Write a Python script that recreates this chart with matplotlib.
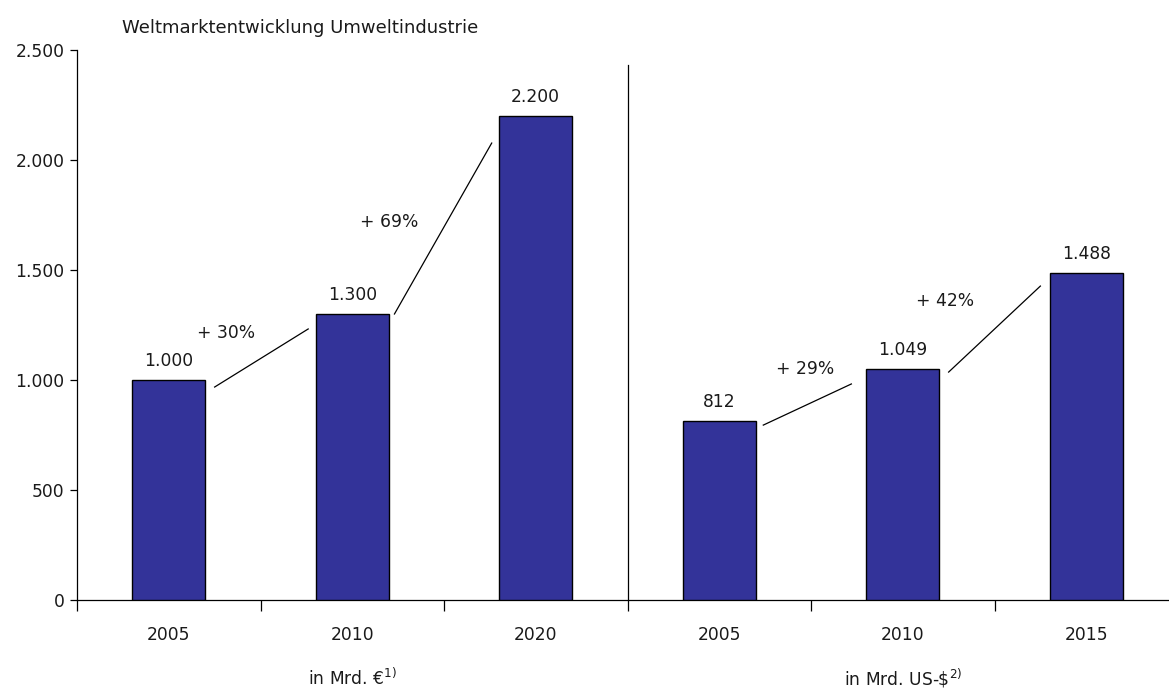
import matplotlib
matplotlib.use("Agg")
import matplotlib.pyplot as plt
from matplotlib.ticker import FuncFormatter, FixedLocator

years = ["2005", "2010", "2020", "2005", "2010", "2015"]
values = [1000, 1300, 2200, 812, 1049, 1488]
value_labels = ["1.000", "1.300", "2.200", "812", "1.049", "1.488"]
growth_labels = ["+ 30%", "+ 69%", "+ 29%", "+ 42%"]
# growth connector lines: (x0, y0, x1, y1) in data coords, and text positions
growth_lines = [(0.25, 968, 0.76, 1232), (1.23, 1300, 1.76, 2077),
                (3.24, 795, 3.72, 982), (4.25, 1036, 4.75, 1427)]
growth_text = [(0.31, 1214), (1.20, 1718), (3.47, 1050), (4.23, 1359)]
group_labels = [r"in Mrd. €$^{1)}$", r"in Mrd. US-\$$^{2)}$"]
title = "Weltmarktentwicklung Umweltindustrie"

plt.rcParams['font.family'] = ['DejaVu Sans']
fs = 12.3
txtcol = "#1a1a1a"
fig = plt.figure(figsize=(11.69, 6.88), dpi=100)
W, H = 1169, 688
x0, x1 = 77, 77 + 6 * 183.5
y0, y1 = 600, 50
ax = fig.add_axes([x0 / W, 1 - y0 / H, (x1 - x0) / W, (y0 - y1) / H])

xs = list(range(len(values)))
ax.bar(xs, values, width=0.40, color="#333399", edgecolor="black", linewidth=1.0, zorder=3)
for x, v, lab in zip(xs, values, value_labels):
    ax.text(x, v + 45, lab, ha="center", va="bottom", fontsize=fs, color=txtcol)

for (a, b, c, d) in growth_lines:
    ax.plot([a, c], [b, d], color="black", linewidth=0.9)
for (tx, ty), lab in zip(growth_text, growth_labels):
    ax.text(tx, ty, lab, ha="center", va="center", fontsize=fs, color=txtcol)

# separator
ax.plot([2.5, 2.5], [0, 2430], color="black", linewidth=0.9)

ax.set_xlim(-0.5, 5.5)
ax.set_ylim(0, 2500)
ax.set_yticks([0, 500, 1000, 1500, 2000, 2500])
ax.yaxis.set_major_formatter(FuncFormatter(lambda v, p: f"{int(v):,}".replace(",", ".")))
ax.set_xticks(xs)
ax.set_xticklabels(years, fontsize=fs, color=txtcol)
ax.xaxis.set_minor_locator(FixedLocator([-0.5, 0.5, 1.5, 2.5, 3.5, 4.5, 5.5]))
ax.tick_params(axis="x", which="major", length=0, pad=19)
ax.tick_params(axis="x", which="minor", length=8, width=0.9, direction="out")
ax.tick_params(axis="y", length=5, width=0.9, labelsize=fs, pad=4, labelcolor=txtcol)
for s in ["top", "right"]:
    ax.spines[s].set_visible(False)
for s in ["left", "bottom"]:
    ax.spines[s].set_linewidth(0.9)

fig.text(352 / W, 1 - 678 / H, group_labels[0], ha="center", va="center", fontsize=fs, color=txtcol)
fig.text(903 / W, 1 - 678 / H, group_labels[1], ha="center", va="center", fontsize=fs, color=txtcol)
fig.text(122 / W, 1 - 28 / H, title, ha="left", va="center", fontsize=13, color=txtcol)

fig.savefig("out.png", dpi=100)
